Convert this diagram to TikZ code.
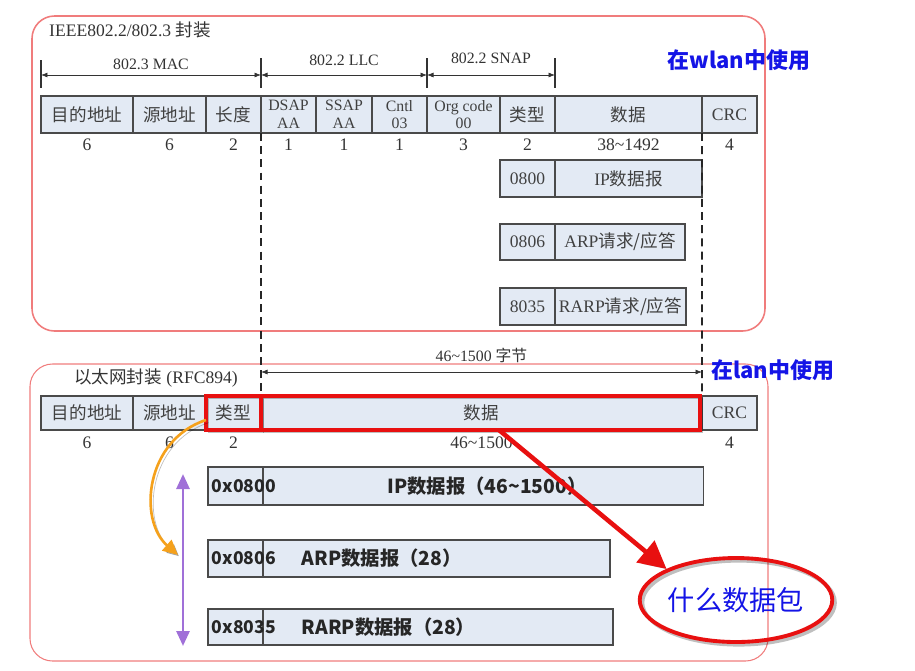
\documentclass[tikz,border=0pt]{standalone}
\usepackage{fontspec}
\setmainfont{Liberation Serif}
\newfontfamily\cjk{Noto Sans CJK SC}
\newcommand{\zh}[1]{{\cjk #1}}
\usepackage{tikz}
\usetikzlibrary{positioning,arrows.meta,shapes.geometric,calc}
\definecolor{cellfill}{HTML}{E3EAF4}
\definecolor{cellline}{HTML}{4A4A4A}
\definecolor{framered}{HTML}{F07C7C}
\definecolor{lblue}{HTML}{1414E6}
\definecolor{hired}{HTML}{E81010}
\definecolor{arcorange}{HTML}{F5A11C}
\definecolor{lilac}{HTML}{A070D8}

\begin{document}
\begin{tikzpicture}[x=0.02cm, y=-0.02cm,
    font=\fontsize{10}{12}\selectfont,
    cell/.style={draw=cellline, fill=cellfill, semithick, inner sep=0pt, outer sep=0pt,
                 minimum height=0.74cm, align=center, text=black!75},
    tcell/.style={cell, font=\fontsize{9}{10}\selectfont},
    num/.style={text=black!80, inner sep=1pt},
    lbl/.style={text=black!80, inner sep=1pt, font=\fontsize{9}{11}\selectfont},
    enc/.style={draw=framered, line width=0.9pt, rounded corners=0.45cm},
    dim/.style={{Latex[length=1.3mm,width=1mm]}-{Latex[length=1.3mm,width=1mm]}, black!80, thin},
    tk/.style={black!80, semithick},
    guide/.style={black!85, line width=0.9pt, dash pattern=on 4.5pt off 3pt},
    shd/.style={preaction={draw=black, opacity=0.25, transform canvas={xshift=1.5pt, yshift=-1.5pt}}},
    hl/.style={draw=hired, line width=2.2pt, shd},
    bsans/.style={font=\cjk\bfseries\fontsize{10}{12}\selectfont, text=black!85, inner sep=2pt},
    bbody/.style={bsans, font=\cjk\bfseries\fontsize{11}{13}\selectfont},
    usage/.style={font=\cjk\bfseries\fontsize{12.5}{15}\selectfont, text=lblue, inner sep=0pt},
    bigarr/.style={hired, line width=2.6pt, -{Triangle[length=0.55cm,width=0.55cm]}, shd},
    orn/.style={arcorange, line width=1.5pt, -{Triangle[length=3mm,width=2.8mm]}, shd},
    lil/.style={lilac, line width=1.6pt, {Triangle[length=3mm,width=2.6mm]}-{Triangle[length=3mm,width=2.6mm]}},
]
    \useasboundingbox (0,0) rectangle (915,670);

    % IEEE 802.2/802.3
    \draw[enc] (32,16) rectangle (765,331);
    \node[anchor=west, text=black!80] (ttl1) at (43,30) {IEEE802.2/802.3 \zh{封装}};
    \node[usage, anchor=west] (wlan) at (667,60) {在wlan中使用};

    \coordinate (a0) at (41,75);
    \coordinate (a1) at (261,75);
    \coordinate (a2) at (427,75);
    \coordinate (a3) at (555,75);
    \draw[tk] (41,60) -- (41,88);
    \draw[tk] (261,58) -- (261,88);
    \draw[tk] (427,58) -- (427,88);
    \draw[tk] (555,58) -- (555,88);
    \draw[dim] (a0) -- node[lbl, above=2pt] (mac) {802.3 MAC} (a1);
    \draw[dim] (a1) -- node[lbl, above=4pt] (llc) {802.2 LLC} (a2);
    \draw[dim] (a2) -- node[lbl, above=5pt] (snap) {802.2 SNAP} (a3);

    \node[cell, minimum width=1.84cm] (d1) at (87,114.5) {\zh{目的地址}};
    \node[cell, minimum width=1.46cm] (s1) at (169.5,114.5) {\zh{源地址}};
    \node[cell, minimum width=1.10cm] (l1) at (233.5,114.5) {\zh{长度}};
    \node[tcell, minimum width=1.10cm] (dsap) at (288.5,114.5) {DSAP\\AA};
    \node[tcell, minimum width=1.12cm] (ssap) at (344,114.5) {SSAP\\AA};
    \node[tcell, minimum width=1.10cm] (cntl) at (399.5,114.5) {Cntl\\03};
    \node[tcell, minimum width=1.46cm] (org) at (463.5,114.5) {Org code\\00};
    \node[cell, minimum width=1.10cm] (ty1) at (527.5,114.5) {\zh{类型}};
    \node[cell, minimum width=2.94cm] (dat1) at (628.5,114.5) {\zh{数据}};
    \node[cell, minimum width=1.10cm] (crc1) at (729.5,114.5) {CRC};

    \node[num, below=2pt of d1] (nd1) {6};
    \node[num, below=2pt of s1] (ns1) {6};
    \node[num, below=2pt of l1] (nl1) {2};
    \node[num, below=2pt of dsap] (ndsap) {1};
    \node[num, below=2pt of ssap] (nssap) {1};
    \node[num, below=2pt of cntl] (ncntl) {1};
    \node[num, below=2pt of org] (norg) {3};
    \node[num, below=2pt of ty1] (nty1) {2};
    \node[num, below=2pt of dat1] (ndat1) {38\textasciitilde1492};
    \node[num, below=2pt of crc1] (ncrc1) {4};

    \node[cell, minimum width=1.10cm] (c0800) at (527.5,178.5) {0800};
    \node[cell, minimum width=2.94cm] (p0800) at (628.5,178.5) {IP\zh{数据报}};
    \node[cell, minimum width=1.10cm, minimum height=0.72cm] (c0806) at (527.5,242) {0806};
    \node[cell, minimum width=2.60cm, minimum height=0.72cm] (p0806) at (620,242) {ARP\zh{请求/应答}};
    \node[cell, minimum width=1.10cm] (c8035) at (527.5,306.5) {8035};
    \node[cell, minimum width=2.62cm] (p8035) at (620.5,306.5) {RARP\zh{请求/应答}};

    % Ethernet (RFC894)
    \draw[enc, line width=0.6pt] (30,364) rectangle (768,661);
    \node[anchor=west, text=black!80] (ttl2) at (68,378) {\zh{以太网封装} (RFC894)};
    \node[usage, anchor=west] (lan) at (711,370) {在lan中使用};

    \coordinate (b0) at (261,372);
    \coordinate (b1) at (702,372);
    \draw[dim] (b0) -- node[lbl, above=4pt] (bytes) {46\textasciitilde1500 \zh{字节}} (b1);

    \node[cell, minimum width=1.84cm, minimum height=0.68cm] (d2) at (87,413) {\zh{目的地址}};
    \node[cell, minimum width=1.46cm, minimum height=0.68cm] (s2) at (169.5,413) {\zh{源地址}};
    \node[cell, minimum width=1.10cm, minimum height=0.68cm] (t2) at (233.5,413) {\zh{类型}};
    \node[cell, minimum width=8.82cm, minimum height=0.68cm] (dat2) at (481.5,413) {\zh{数据}};
    \node[cell, minimum width=1.10cm, minimum height=0.68cm] (crc2) at (729.5,413) {CRC};

    \node[num, below=2.5pt of d2] (nd2) {6};
    \node[num, below=2.5pt of s2] (ns2) {6};
    \node[num, below=2.5pt of t2] (nt2) {2};
    \node[num, below=2.5pt of dat2] (ndat2) {46\textasciitilde1500};
    \node[num, below=2.5pt of crc2] (ncrc2) {4};

    \draw[guide] (l1.south east) -- (t2.north east);
    \draw[guide] (dat1.south east) -- (dat2.north east);

    \draw[hl] (t2.south west) rectangle (t2.north east);
    \draw[hl] (dat2.south west) rectangle ([xshift=-1pt]dat2.north east);

    \node[cell, minimum width=1.10cm, minimum height=0.76cm] (x0800) at (235.5,486) {};
    \node[cell, minimum width=8.82cm, minimum height=0.76cm] (y0800) at (483.5,486) {};
    \node[cell, minimum width=1.10cm] (x0806) at (235.5,558.5) {};
    \node[cell, minimum width=6.94cm] (y0806) at (436.5,558.5) {};
    \node[cell, minimum width=1.10cm, minimum height=0.72cm] (x8035) at (235.5,627) {};
    \node[cell, minimum width=7.00cm, minimum height=0.72cm] (y8035) at (438,627) {};
    \node[bsans, anchor=west] (k0800) at (x0800.west) {0x0800};
    \node[bbody] (v0800) at ([xshift=2pt]y0800) {IP数据报（46\textasciitilde1500）};
    \node[bsans, anchor=west] (k0806) at (x0806.west) {0x0806};
    \node[bbody, anchor=west] (v0806) at (298,558.5) {ARP数据报（28）};
    \node[bsans, anchor=west] (k8035) at (x8035.west) {0x8035};
    \node[bbody, anchor=west] (v8035) at (298,627) {RARP数据报（28）};

    \node[ellipse, draw=hired, line width=2.2pt, shd, minimum width=3.44cm, minimum height=1.68cm,
          inner sep=0pt, text=lblue, font=\cjk\fontsize{15.5}{18}\selectfont] (what) at (736,600) {什么数据包};

    \coordinate (oe) at (178,555);
    \coordinate (pu0) at (183,474);
    \coordinate (pu1) at (183,646);
    \draw[orn] ([yshift=0.2cm]t2.south west) .. controls (145,440) and (138,520) .. (oe);
    \draw[lil] (pu0) -- (pu1);
    \draw[bigarr] ([xshift=0.35cm]dat2.south) -- (what.north west);
\end{tikzpicture}
\end{document}
